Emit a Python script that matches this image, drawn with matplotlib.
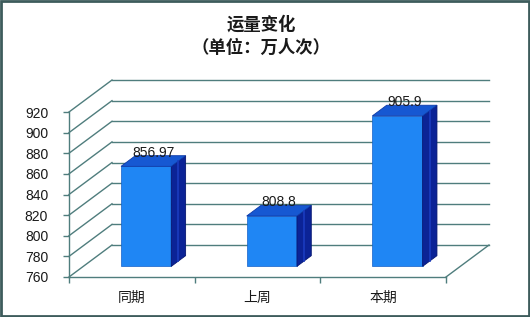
import matplotlib
matplotlib.use('Agg')
import matplotlib.pyplot as plt
from matplotlib.patches import Polygon, Rectangle

plt.rcParams['font.family'] = ['Noto Sans CJK SC', 'DejaVu Sans']

# 数据
categories = ['同期', '上周', '本期']
values = [856.97, 808.8, 905.9]
value_labels = ['856.97', '808.8', '905.9']
yticks = [760, 780, 800, 820, 840, 860, 880, 900, 920]

ymin, ymax = 760, 920
grid_color = '#4f7d7d'
front_color = '#1f86f4'
side_color = '#0b2396'
top_color = '#1658d2'

# 伪3D 深度偏移（数据单位）
DX = 0.342
DY = 31.0
bar_w = 0.4

fig = plt.figure(figsize=(5.3, 3.17), dpi=100, facecolor='white')
ax = fig.add_axes([69 / 530, 40 / 317, 377 / 530, 165 / 317])
ax.set_xlim(0, len(categories))
ax.set_ylim(ymin, ymax)
ax.set_facecolor('none')

# 背景墙网格线 + 侧墙斜线
for t in yticks:
    ax.plot([DX, len(categories) + DX], [t + DY, t + DY],
            color=grid_color, linewidth=1.0, clip_on=False, zorder=1)
    ax.plot([0, DX], [t, t + DY],
            color=grid_color, linewidth=1.0, clip_on=False, zorder=1)
# 底面右侧斜线
ax.plot([len(categories), len(categories) + DX], [ymin, ymin + DY],
        color=grid_color, linewidth=1.0, clip_on=False, zorder=1)

# 柱子
ox1, oy1 = DX / 3, DY / 3
ox2, oy2 = DX * 2 / 3, DY * 2 / 3
for i, v in enumerate(values):
    c = i + 0.5
    ax.bar(c + ox1, v - ymin, bottom=ymin + oy1, width=bar_w,
           color=front_color, edgecolor='#1560c8', linewidth=0.5,
           clip_on=False, zorder=3)
    r = c + bar_w / 2
    side = Polygon([(r + ox1, ymin + oy1), (r + ox1, v + oy1),
                    (r + ox2, v + oy2), (r + ox2, ymin + oy2)],
                   closed=True, facecolor=side_color, edgecolor='#061670',
                   linewidth=0.6, clip_on=False, zorder=3)
    ax.add_patch(side)
    # 侧面的浅色竖条
    mid = (ox1 + ox2) / 2
    ax.plot([r + mid, r + mid], [ymin + (oy1 + oy2) / 2, v + (oy1 + oy2) / 2],
            color='#1a3cc0', linewidth=1.2, clip_on=False, zorder=4)
    l = c - bar_w / 2
    top = Polygon([(l + ox1, v + oy1), (r + ox1, v + oy1),
                   (r + ox2, v + oy2), (l + ox2, v + oy2)],
                  closed=True, facecolor=top_color, edgecolor='#0c3aa8',
                  linewidth=0.6, clip_on=False, zorder=3)
    ax.add_patch(top)
    ax.text(c + (ox1 + ox2) / 2, v + oy2 + 3, value_labels[i],
            ha='center', va='center', fontsize=10,
            family=['Liberation Sans', 'DejaVu Sans'], color='#1a1a1a',
            zorder=5, clip_on=False)

# 坐标轴
for s in ['top', 'right']:
    ax.spines[s].set_visible(False)
for s in ['left', 'bottom']:
    ax.spines[s].set_color(grid_color)
    ax.spines[s].set_linewidth(1.0)

ax.set_yticks(yticks)
ax.set_yticklabels([str(t) for t in yticks],
                   family=['Liberation Sans', 'DejaVu Sans'], fontsize=10)
ax.tick_params(axis='y', direction='out', length=4, width=1,
               color=grid_color, pad=11, labelcolor='#1a1a1a')

ax.set_xticks(range(len(categories) + 1))
ax.set_xticklabels([])
ax.set_xticks([i + 0.5 for i in range(len(categories))], minor=True)
ax.set_xticklabels(categories, minor=True, fontsize=10, color='#1a1a1a')
ax.tick_params(axis='x', which='major', direction='out', length=4, width=1,
               color=grid_color)
ax.tick_params(axis='x', which='minor', length=0, pad=10)

# 标题
fig.text(0.493, 0.921, '运量变化', ha='center', va='center',
         fontsize=12.5, fontweight='bold', color='#1a1a1a')
fig.text(0.493, 0.849, '（单位：万人次）', ha='center', va='center',
         fontsize=12.5, fontweight='bold', color='#1a1a1a')

# 外框
fig.patches.append(Rectangle((0.002, 0.003), 0.996, 0.994,
                             transform=fig.transFigure, fill=False,
                             edgecolor='#3d5c5c', linewidth=2))

plt.savefig('out.png', dpi=100)
